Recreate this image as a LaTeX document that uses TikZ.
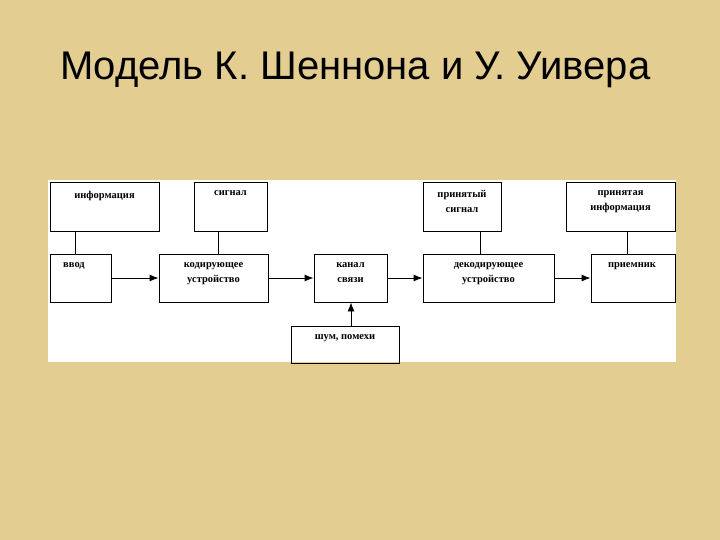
\documentclass[tikz,border=0pt]{standalone}
\usepackage{fontspec}
\setmainfont{Liberation Serif}
\newfontfamily\titlefont{Liberation Sans}
\usetikzlibrary{arrows.meta}
\definecolor{papyrus}{RGB}{228,205,145}
\begin{document}
\begin{tikzpicture}[x=1pt,y=-1pt,
  box/.style={draw=black,line width=0.9pt},
  txt/.style={font=\fontsize{10.5}{15}\selectfont\bfseries,align=center,anchor=north,inner sep=0pt},
  conn/.style={line width=0.9pt},
  arr/.style={line width=0.9pt,-{Latex[length=9pt,width=7pt]}}]
\fill[papyrus] (0,0) rectangle (720,540);
\useasboundingbox (0,0) rectangle (720,540);
\fill[white] (48,180) rectangle (676,362);
\node[anchor=west,font=\titlefont\fontsize{40}{44}\selectfont,inner sep=0] (title) at (60,70) {Модель К. Шеннона и У. Уивера};
% boxes
\node[box,minimum width=109,minimum height=49,inner sep=0] (informacia) at (104.5,206.5) {};
\node[box,minimum width=73,minimum height=49,inner sep=0] (signal) at (230.5,206.5) {};
\node[box,minimum width=78,minimum height=49,inner sep=0] (psignal) at (462,206.5) {};
\node[box,minimum width=109,minimum height=49,inner sep=0] (pinfo) at (620.5,206.5) {};
\node[box,minimum width=61,minimum height=48,inner sep=0] (vvod) at (80.5,278) {};
\node[box,minimum width=109,minimum height=48,inner sep=0] (kod) at (213.5,278) {};
\node[box,minimum width=73,minimum height=48,inner sep=0] (kanal) at (350.5,278) {};
\node[box,minimum width=131,minimum height=48,inner sep=0] (dekod) at (488.5,278) {};
\node[box,minimum width=84,minimum height=48,inner sep=0] (priem) at (633,278) {};
\node[box,minimum width=108,minimum height=37,inner sep=0] (shum) at (345,344.5) {};
% texts
\node[txt] (t1) at (informacia.north) [yshift=-9] {информация};
\node[txt] (t2) at (signal.north) [yshift=-9] {сигнал};
\node[txt] (t3) at (psignal.north) [yshift=-9] {принятый\\сигнал};
\node[txt] (t4) at (pinfo.north) [yshift=-9] {принятая\\информация};
\node[txt] (t5) at (vvod.north -| 74,0) [yshift=-9] {ввод};
\node[txt] (t6) at (kod.north) [yshift=-9] {кодирующее\\устройство};
\node[txt] (t7) at (kanal.north) [yshift=-9] {канал\\связи};
\node[txt] (t8) at (dekod.north) [yshift=-9] {декодирующее\\устройство};
\node[txt] (t9) at (priem.north -| 632,0) [yshift=-9] {приемник};
\node[txt] (t10) at (shum.north) [yshift=-9] {шум, помехи};
% connectors
\draw[conn] (informacia.south -| 75,0) -- (vvod.north -| 75,0);
\draw[conn] (signal.south -| 218,0) -- (kod.north -| 218,0);
\draw[conn] (psignal.south -| 480,0) -- (dekod.north -| 480,0);
\draw[conn] (pinfo.south -| 627,0) -- (priem.north -| 627,0);
\draw[arr] (vvod) -- (kod);
\draw[arr] (kod) -- (kanal);
\draw[arr] (kanal) -- (dekod);
\draw[arr] (dekod) -- (priem);
\draw[arr] (shum.north -| 351,0) -- (kanal.south -| 351,0);
\end{tikzpicture}
\end{document}
